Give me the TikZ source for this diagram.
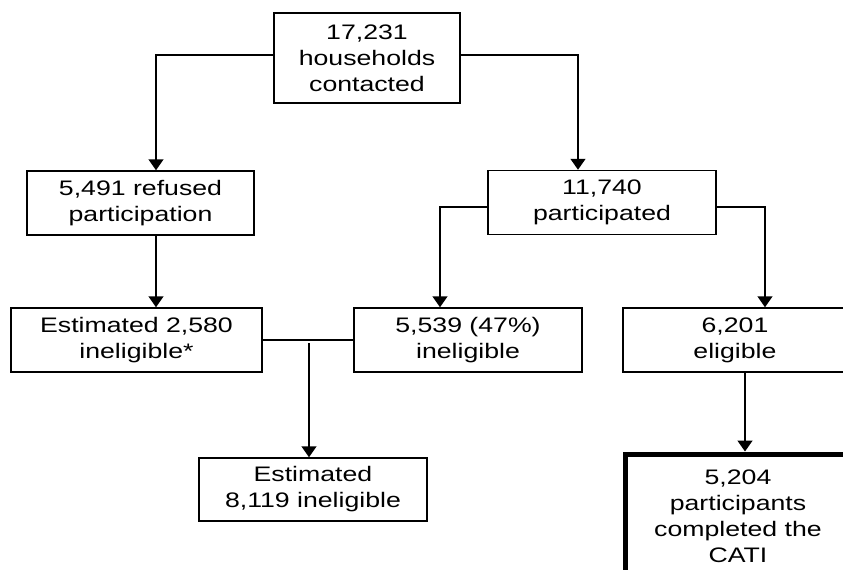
\documentclass[tikz,border=0pt]{standalone}
\usepackage{fontspec}
\setmainfont{Liberation Sans}[FakeStretch=1.27]
\usepackage{tikz}
\usetikzlibrary{arrows.meta,positioning}

\begin{document}
\begin{tikzpicture}[x=1pt, y=-1pt, >={Triangle[width=15pt,length=11pt]},
  box/.style={draw=black, line width=1.5pt, rectangle, align=center, inner sep=0pt,
    font=\fontsize{21}{26}\selectfont, minimum width=228pt, minimum height=64pt},
  flow/.style={->, line width=1.5pt, black}, link/.style={line width=1.5pt, black}]
  \useasboundingbox (0,0) rectangle (843,570);

  \node[box, minimum width=186pt, minimum height=90pt] (contacted) at (367,58) {17,231\\households\\contacted};
  \node[box, minimum width=227pt] (refused) at (140.5,203) {5,491 refused\\participation};
  \node[box] (participated) at (602,202.5) {11,740\\participated};
  \node[box, minimum width=251pt] (estrefused) at (136.5,340) {Estimated 2,580\\ineligible*};
  \node[box] (ineligible) at (468,340) {5,539 (47\%)\\ineligible};
  \node[box, minimum width=224pt] (eligible) at (735,340) {6,201\\eligible};
  \node[box, minimum height=63pt] (esttotal) at (313,489.5) {Estimated\\8,119 ineligible};
  \node[box, line width=5pt, minimum width=226pt, minimum height=124pt] (cati) at (738,516) {5,204\\participants\\completed the\\CATI};

  \draw[flow] ([yshift=3pt]contacted.west) -| ([xshift=15.5pt]refused.north);
  \draw[flow] ([yshift=3pt]contacted.east) -| ([xshift=-24pt]participated.north);
  \draw[flow] ([xshift=15.5pt]refused.south) -- ([xshift=15.5pt]refused.south |- estrefused.north);
  \draw[flow] ([yshift=-4.5pt]participated.west) -| ([xshift=-28pt]ineligible.north);
  \draw[flow] ([yshift=-4.5pt]participated.east) -| ([xshift=30pt]eligible.north);
  \draw[link] (estrefused.east) -- (ineligible.west);
  \draw[flow] ([xshift=-4pt,yshift=-3pt]esttotal.north |- estrefused.east) -- ([xshift=-4pt]esttotal.north);
  \draw[flow] ([xshift=10pt]eligible.south) -- ([xshift=10pt]eligible.south |- cati.north);
\end{tikzpicture}
\end{document}
